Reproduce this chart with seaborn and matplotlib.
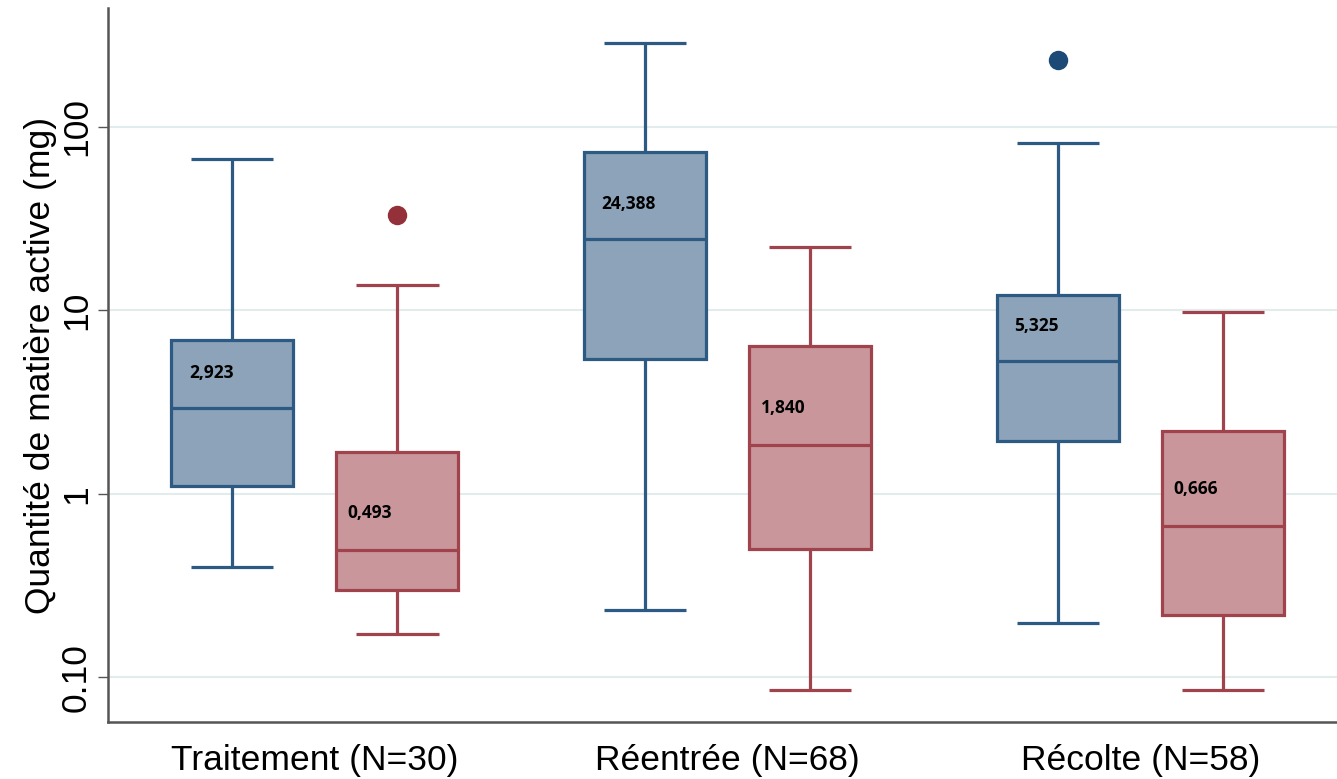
import numpy as np
import pandas as pd
import matplotlib
matplotlib.use("Agg")
import matplotlib.pyplot as plt
import seaborn as sns
from matplotlib.ticker import FixedLocator, NullLocator

# Data (mg, log scale)
groups = ["Traitement (N=30)", "Réentrée (N=68)", "Récolte (N=58)"]
series = ["A", "B"]
# five-number summaries: whisker low, Q1, median, Q3, whisker high
blue_stats = [
    [0.398, 1.10, 2.923, 6.88, 66.9],
    [0.232, 5.42, 24.388, 73.1, 287.0],
    [0.197, 1.94, 5.325, 12.1, 81.8],
]
red_stats = [
    [0.171, 0.298, 0.493, 1.69, 13.7],
    [0.0849, 0.499, 1.840, 6.38, 22.1],
    [0.0849, 0.218, 0.666, 2.20, 9.79],
]
median_labels_blue = ["2,923", "24,388", "5,325"]
median_labels_red = ["0,493", "1,840", "0,666"]
outlier_groups = ["Traitement (N=30)", "Récolte (N=58)"]
outlier_series = ["B", "A"]
outlier_values = [33.1, 232.0]

rows = []
for g, bs, rs in zip(groups, blue_stats, red_stats):
    for v in bs:
        rows.append({"group": g, "series": "A", "value": v})
    for v in rs:
        rows.append({"group": g, "series": "B", "value": v})
df = pd.DataFrame(rows)
out_df = pd.DataFrame({"group": outlier_groups, "series": outlier_series, "value": outlier_values})

blue_edge, blue_fill, blue_dot = "#2d5a82", "#8ca3b9", "#1c4a76"
red_edge, red_fill, red_dot = "#a0434c", "#c9979b", "#93303a"

sns.set_style("white")
plt.rcParams["font.family"] = ["Liberation Sans", "DejaVu Sans"]
plt.rcParams["text.color"] = "black"
plt.rcParams["axes.labelcolor"] = "black"
plt.rcParams["xtick.color"] = "black"
plt.rcParams["ytick.color"] = "black"

fig = plt.figure(figsize=(13.37, 7.79), dpi=100)
ax = fig.add_axes([0.081, 0.073, 0.919, 0.917])

sns.boxplot(data=df, x="group", y="value", hue="series", order=groups,
            hue_order=series, palette=[blue_fill, red_fill], saturation=1,
            whis=(0, 100), width=0.8, gap=0.26, log_scale=True, linewidth=2.3,
            showfliers=False, legend=False, ax=ax)

# recolour edges per series
for patch, col in zip(ax.patches, [blue_edge] * 3 + [red_edge] * 3):
    patch.set_edgecolor(col)
    patch.set_linewidth(2.3)
per_box = len(ax.lines) // 6
for i, line in enumerate(ax.lines):
    box = i // per_box
    line.set_color(blue_edge if box < 3 else red_edge)
    line.set_linewidth(2.3)
    line.set_solid_capstyle("butt")
    xd = np.asarray(line.get_xdata(), dtype=float)
    yd = np.asarray(line.get_ydata(), dtype=float)
    # widen whisker caps (short horizontal segments)
    if len(xd) == 2 and yd[0] == yd[1] and 0 < abs(xd[1] - xd[0]) < 0.2:
        c = xd.mean()
        half = 0.1
        line.set_xdata([c - half, c + half])

sns.stripplot(data=out_df, x="group", y="value", hue="series", order=groups,
              hue_order=series, palette=[blue_dot, red_dot], dodge=True,
              jitter=False, size=14, legend=False, ax=ax, zorder=5)

# median labels
lab_font = ["Open Sans", "DejaVu Sans"]
for i in range(3):
    ax.text(i - 0.2 - 0.105, blue_stats[i][2] * 1.55, median_labels_blue[i],
            fontsize=12.5, fontweight="bold", ha="left", va="center",
            family=lab_font)
    ax.text(i + 0.2 - 0.12, red_stats[i][2] * 1.6, median_labels_red[i],
            fontsize=12.5, fontweight="bold", ha="left", va="center",
            family=lab_font)

ax.set_yscale("log")
ax.set_ylim(0.0569, 446)
ax.set_xlim(-0.5, 2.476)
ax.yaxis.set_major_locator(FixedLocator([0.1, 1, 10, 100]))
ax.yaxis.set_minor_locator(NullLocator())
ax.set_yticklabels(["0.10", "1", "10", "100"], rotation=90, va="center", fontsize=25.5)
ax.set_xticks(range(3))
ax.set_xticklabels(groups, fontsize=25.5)
ax.tick_params(axis="y", left=True, length=7, width=1, color="#555555", pad=4)
ax.tick_params(axis="x", bottom=False, pad=12)
ax.grid(axis="y", color="#e3ecec", linewidth=1.5)
ax.set_axisbelow(True)
ax.set_xlabel("")
ax.set_ylabel("Quantité de matière active (mg)", fontsize=25.5, labelpad=2)

for s in ["top", "right"]:
    ax.spines[s].set_visible(False)
for s in ["left", "bottom"]:
    ax.spines[s].set_color("#555555")
    ax.spines[s].set_linewidth(1.8)

fig.savefig("out.png", dpi=100)
